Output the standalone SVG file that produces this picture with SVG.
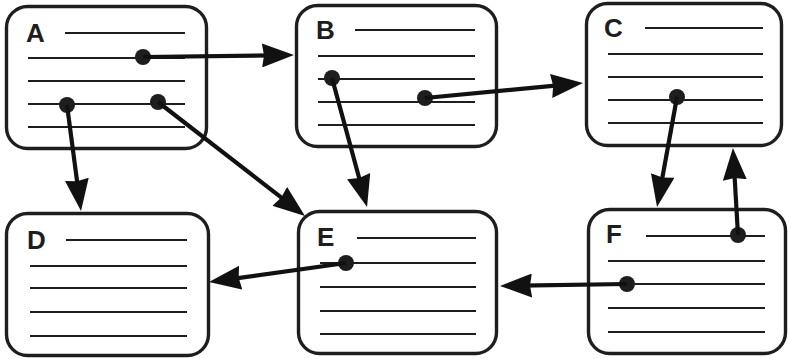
<svg xmlns="http://www.w3.org/2000/svg" width="789" height="359" viewBox="0 0 789 359">
<style>
.box{fill:#fff;stroke:#1e1e1e;stroke-width:3.4}
.ln{stroke:#1e1e1e;stroke-width:2}
.lbl{font-family:"Liberation Sans",Arial,sans-serif;font-weight:bold;font-size:26px;fill:#1e1e1e}
.dot{fill:#1e1e1e}
.con{stroke:#111;stroke-width:4.2;fill:none;marker-end:url(#ah)}
</style>
<defs>
<marker id="ah" viewBox="0 0 32 24" refX="12" refY="12" markerWidth="32" markerHeight="24" markerUnits="userSpaceOnUse" orient="auto">
<path d="M0,0 L32,12 L0,24 L2,12 Z" fill="#111"/>
</marker>
</defs>
<rect width="789" height="359" fill="#fff"/>
<g id="A">
<rect class="box" x="6.5" y="6.5" width="200" height="142" rx="21"/>
<text class="lbl" x="26" y="42">A</text>
<line class="ln" x1="65" y1="33" x2="185" y2="33"/>
<line class="ln" x1="28" y1="58" x2="185" y2="58"/>
<line class="ln" x1="28" y1="81" x2="185" y2="81"/>
<line class="ln" x1="28" y1="104" x2="185" y2="104"/>
<line class="ln" x1="28" y1="127" x2="185" y2="127"/>
<circle class="dot" cx="143" cy="57" r="8"/>
<circle class="dot" cx="67" cy="105" r="8"/>
<circle class="dot" cx="158" cy="102" r="8"/>
</g>
<g id="B">
<rect class="box" x="296.5" y="5.5" width="200" height="141" rx="21"/>
<text class="lbl" x="316" y="39">B</text>
<line class="ln" x1="355" y1="30" x2="475" y2="30"/>
<line class="ln" x1="318" y1="56" x2="475" y2="56"/>
<line class="ln" x1="318" y1="79" x2="475" y2="79"/>
<line class="ln" x1="318" y1="102" x2="475" y2="102"/>
<line class="ln" x1="318" y1="125" x2="475" y2="125"/>
<circle class="dot" cx="332" cy="78" r="8"/>
<circle class="dot" cx="425" cy="98" r="8"/>
</g>
<g id="C">
<rect class="box" x="586.5" y="3.5" width="195" height="142" rx="21"/>
<text class="lbl" x="604" y="37">C</text>
<line class="ln" x1="645" y1="28" x2="763" y2="28"/>
<line class="ln" x1="608" y1="54" x2="763" y2="54"/>
<line class="ln" x1="608" y1="77" x2="763" y2="77"/>
<line class="ln" x1="608" y1="100" x2="763" y2="100"/>
<line class="ln" x1="608" y1="123" x2="763" y2="123"/>
<circle class="dot" cx="677" cy="97" r="8"/>
</g>
<g id="D">
<rect class="box" x="6.5" y="213.5" width="202" height="142" rx="21"/>
<text class="lbl" x="27" y="249">D</text>
<line class="ln" x1="66" y1="240" x2="187" y2="240"/>
<line class="ln" x1="30" y1="266" x2="187" y2="266"/>
<line class="ln" x1="30" y1="288" x2="187" y2="288"/>
<line class="ln" x1="30" y1="312" x2="187" y2="312"/>
<line class="ln" x1="30" y1="336" x2="187" y2="336"/>
</g>
<g id="E">
<rect class="box" x="298.5" y="211.5" width="198" height="142" rx="21"/>
<text class="lbl" x="317" y="246">E</text>
<line class="ln" x1="357" y1="238" x2="476" y2="238"/>
<line class="ln" x1="320" y1="263" x2="476" y2="263"/>
<line class="ln" x1="320" y1="287" x2="476" y2="287"/>
<line class="ln" x1="320" y1="311" x2="476" y2="311"/>
<line class="ln" x1="320" y1="334" x2="476" y2="334"/>
<circle class="dot" cx="346" cy="263" r="8"/>
</g>
<g id="F">
<rect class="box" x="588.5" y="209.5" width="197" height="144" rx="21"/>
<text class="lbl" x="606" y="243">F</text>
<line class="ln" x1="646" y1="236" x2="765" y2="236"/>
<line class="ln" x1="608" y1="261" x2="765" y2="261"/>
<line class="ln" x1="608" y1="284" x2="765" y2="284"/>
<line class="ln" x1="608" y1="308" x2="765" y2="308"/>
<line class="ln" x1="608" y1="332" x2="765" y2="332"/>
<circle class="dot" cx="738" cy="235" r="8"/>
<circle class="dot" cx="627" cy="284" r="8"/>
</g>
<g id="connectors">
<line class="con" x1="143" y1="57" x2="274" y2="55.3"/>
<line class="con" x1="67" y1="105" x2="78.4" y2="191.2"/>
<line class="con" x1="158" y1="102" x2="289.2" y2="203.7"/>
<line class="con" x1="332" y1="78" x2="361.8" y2="187.7"/>
<line class="con" x1="425" y1="98" x2="563.1" y2="84.9"/>
<line class="con" x1="677" y1="97" x2="660.6" y2="187.3"/>
<line class="con" x1="738" y1="235" x2="734.1" y2="168"/>
<line class="con" x1="346" y1="263" x2="228.8" y2="279.3"/>
<line class="con" x1="627" y1="284" x2="520" y2="285.7"/>
</g>
</svg>
